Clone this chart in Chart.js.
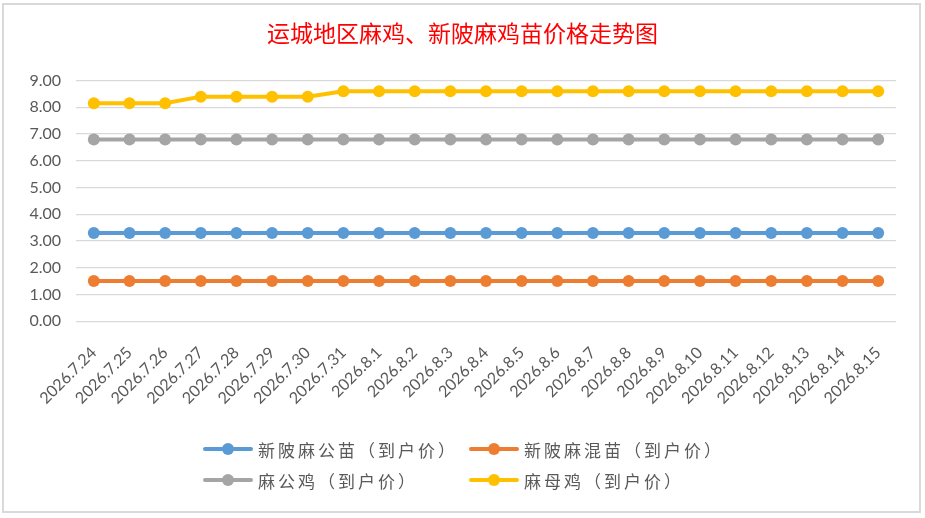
<!DOCTYPE html>
<html>
<head>
<meta charset="utf-8">
<script src="https://cdn.jsdelivr.net/npm/chart.js@4.4.1/dist/chart.umd.min.js"></script>
<style>
  html, body { margin: 0; padding: 0; background: #fff; }
  #wrap { position: relative; width: 925px; height: 518px; overflow: hidden; background: #fff; }
  #frame { position: absolute; left: 2px; top: 3px; width: 919px; height: 510px; box-sizing: border-box; border: 2px solid #d9d9d9; }
  #chart { position: absolute; left: 0; top: 0; }
  #legend { position: absolute; left: 203px; top: 437px; display: grid; grid-template-columns: 266px auto; row-gap: 7px; }
  .item { display: flex; align-items: center; height: 24px; }
  .mark { position: relative; width: 50px; height: 12px; margin-right: 5px; }
  .mark .ln { position: absolute; left: 0; right: 0; top: 4px; height: 4px; border-radius: 2px; }
  .mark .dot { position: absolute; left: 19px; top: 0; width: 12px; height: 12px; border-radius: 50%; }
  .txt { font-family: "Noto Sans CJK SC", sans-serif; font-size: 17px; letter-spacing: 3px; color: #595959; }
</style>
</head>
<body>
<div id="wrap">
  <div id="frame"></div>
  <canvas id="chart" width="925" height="518"></canvas>
  <div id="legend"></div>
</div>
<script>
// categories (dates) and series values
const dates = [
  '2026.7.24', '2026.7.25', '2026.7.26', '2026.7.27', '2026.7.28', '2026.7.29',
  '2026.7.30', '2026.7.31', '2026.8.1', '2026.8.2', '2026.8.3', '2026.8.4',
  '2026.8.5', '2026.8.6', '2026.8.7', '2026.8.8', '2026.8.9', '2026.8.10',
  '2026.8.11', '2026.8.12', '2026.8.13', '2026.8.14', '2026.8.15'
];
const seriesNames = ['新陂麻公苗（到户价）', '新陂麻混苗（到户价）', '麻公鸡（到户价）', '麻母鸡（到户价）'];
const gongMiao = [3.3, 3.3, 3.3, 3.3, 3.3, 3.3, 3.3, 3.3, 3.3, 3.3, 3.3, 3.3, 3.3, 3.3, 3.3, 3.3, 3.3, 3.3, 3.3, 3.3, 3.3, 3.3, 3.3];
const hunMiao = [1.5, 1.5, 1.5, 1.5, 1.5, 1.5, 1.5, 1.5, 1.5, 1.5, 1.5, 1.5, 1.5, 1.5, 1.5, 1.5, 1.5, 1.5, 1.5, 1.5, 1.5, 1.5, 1.5];
const gongJi = [6.8, 6.8, 6.8, 6.8, 6.8, 6.8, 6.8, 6.8, 6.8, 6.8, 6.8, 6.8, 6.8, 6.8, 6.8, 6.8, 6.8, 6.8, 6.8, 6.8, 6.8, 6.8, 6.8];
const muJi = [8.15, 8.15, 8.15, 8.4, 8.4, 8.4, 8.4, 8.6, 8.6, 8.6, 8.6, 8.6, 8.6, 8.6, 8.6, 8.6, 8.6, 8.6, 8.6, 8.6, 8.6, 8.6, 8.6];
const yTicks = [0, 1, 2, 3, 4, 5, 6, 7, 8, 9];

const colors = ['#5B9BD5', '#ED7D31', '#A5A5A5', '#FFC000'];
const values = [gongMiao, hunMiao, gongJi, muJi];

const datasets = seriesNames.map((name, i) => ({
  label: name,
  data: values[i],
  borderColor: colors[i],
  backgroundColor: colors[i],
  borderWidth: 4,
  pointRadius: 6,
  pointBorderWidth: 0,
  pointBackgroundColor: colors[i],
  tension: 0
}));

const chart = new Chart(document.getElementById('chart'), {
  type: 'line',
  data: { labels: dates, datasets: datasets },
  options: {
    responsive: false,
    animation: false,
    // equal side padding keeps the title centred on the page
    layout: { padding: { left: 29, right: 29, top: 0, bottom: 96 } },
    plugins: {
      legend: { display: false },
      tooltip: { enabled: false },
      title: {
        display: true,
        text: '运城地区麻鸡、新陂麻鸡苗价格走势图',
        color: '#FF0000',
        font: { family: '"Noto Sans CJK SC"', size: 23, weight: 'normal' },
        padding: { top: 19, bottom: 34 }
      }
    },
    scales: {
      x: {
        offset: true,
        grid: { display: false },
        border: { display: false },
        ticks: {
          autoSkip: false,
          minRotation: 45,
          maxRotation: 45,
          padding: 14,
          color: '#595959',
          font: { family: 'Lato', size: 16 }
        }
      },
      y: {
        min: yTicks[0],
        max: yTicks[yTicks.length - 1],
        afterBuildTicks: axis => { axis.ticks = yTicks.map(v => ({ value: v })); },
        afterFit: axis => { axis.width = 47; },
        grid: { color: '#d9d9d9', lineWidth: 1.3, drawTicks: false },
        border: { display: false },
        ticks: {
          padding: 15,
          color: '#595959',
          font: { family: 'Lato', size: 16 },
          callback: v => Number(v).toFixed(2)
        }
      }
    }
  }
});

// legend laid out in two columns like the spreadsheet chart
const legendBox = document.getElementById('legend');
chart.data.datasets.forEach(ds => {
  const item = document.createElement('div');
  item.className = 'item';
  item.innerHTML = '<span class="mark"><span class="ln" style="background:' + ds.borderColor +
    '"></span><span class="dot" style="background:' + ds.borderColor + '"></span></span>' +
    '<span class="txt">' + ds.label + '</span>';
  legendBox.appendChild(item);
});
</script>
</body>
</html>
